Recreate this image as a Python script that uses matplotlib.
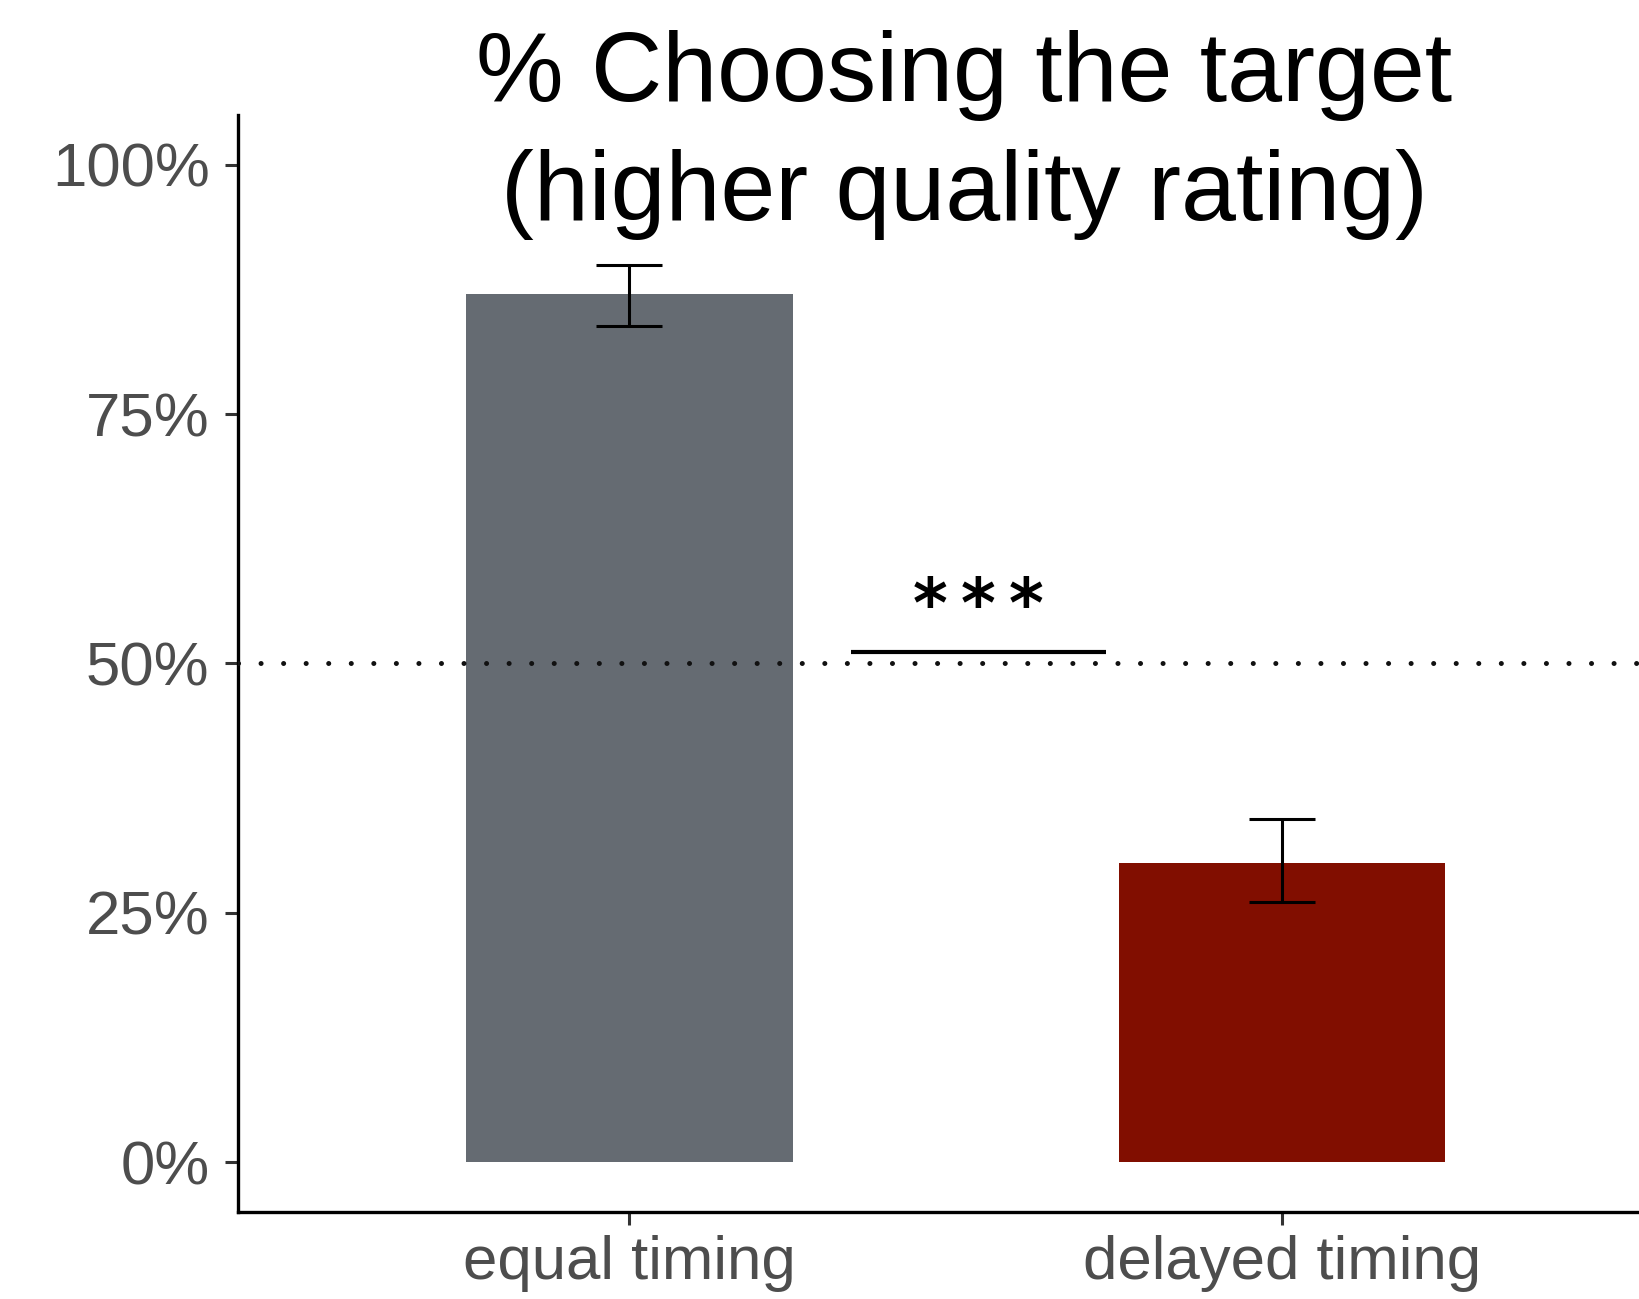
import matplotlib
matplotlib.use("Agg")
import matplotlib.pyplot as plt

# ---- data ----
categories = ["equal timing", "delayed timing"]
values = [0.871, 0.300]
err_low = [0.838, 0.261]
err_high = [0.900, 0.344]
bar_colors = ["#656b72", "#810e00"]
yticks = [0.0, 0.25, 0.50, 0.75, 1.00]
ytick_labels = ["0%", "25%", "50%", "75%", "100%"]
chance_level = 0.5
sig_label = "*\u2009*\u2009*"
sig_y = 0.512
sig_x = [1.34, 1.73]
title_lines = ["% Choosing the target", "(higher quality rating)"]

plt.rcParams["font.family"] = ["Liberation Sans", "DejaVu Sans"]

W, H = 1640, 1299
fig = plt.figure(figsize=(W / 100, H / 100), dpi=100)
ax = fig.add_axes([238 / W, 1 - 1212 / H, 1 - 238 / W, (1212 - 115) / H])

xpos = [1, 2]
ax.bar(xpos, values, width=0.5, color=bar_colors, zorder=2)
yerr = [[v - lo for v, lo in zip(values, err_low)],
        [hi - v for v, hi in zip(values, err_high)]]
ax.errorbar(xpos, values, yerr=yerr, fmt="none", ecolor="black",
            elinewidth=2.2, capsize=23.8, capthick=2.2, zorder=3)

ax.axhline(chance_level, color="#111111", lw=3.6, linestyle=(0, (0.01, 4.5)),
           dash_capstyle="round", zorder=4)

ax.plot(sig_x, [sig_y, sig_y], color="black", lw=3.0, solid_capstyle="butt", zorder=4)
ax.text(1.535, 0.556, sig_label, ha="center", va="center",
        fontsize=48, color="black", fontweight="bold", family="DejaVu Sans")

ax.set_xlim(0.4, 2.549)
ax.set_ylim(-0.05, 1.05)
ax.set_xticks(xpos)
ax.set_xticklabels(categories)
ax.set_yticks(yticks)
ax.set_yticklabels(ytick_labels)

for s in ["top", "right"]:
    ax.spines[s].set_visible(False)
for s in ["left", "bottom"]:
    ax.spines[s].set_linewidth(2.4)
    ax.spines[s].set_color("black")

ax.tick_params(axis="both", length=9.4, width=2.2, color="#333333",
               labelsize=44.5, labelcolor="#4d4d4d")
ax.tick_params(axis="y", pad=11)
ax.tick_params(axis="x", pad=7)

cx = 964 / W
fig.text(cx, 1 - 101 / H, title_lines[0], ha="center", va="baseline",
         fontsize=71, color="black")
fig.text(cx, 1 - 220 / H, title_lines[1], ha="center", va="baseline",
         fontsize=71, color="black")

fig.savefig("out.png", dpi=100, facecolor="white")
